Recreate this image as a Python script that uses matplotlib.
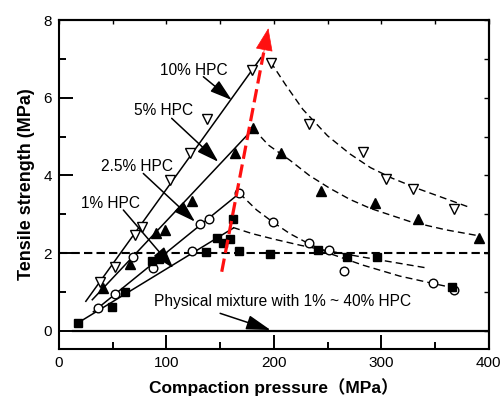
import matplotlib
matplotlib.use("Agg")
import matplotlib.pyplot as plt

plt.rcParams['font.family'] = ['Liberation Sans', 'Noto Sans CJK SC', 'DejaVu Sans']

# ---------------- data ----------------
# 10% HPC (open down triangles)
x10 = [38, 52, 70.8, 77, 103.4, 122, 137.5, 179.4, 197, 233, 282.7, 304.5, 330, 367.8]
y10 = [1.26, 1.65, 2.46, 2.68, 3.88, 4.58, 5.44, 6.71, 6.90, 5.32, 4.61, 3.90, 3.64, 3.13]
# 5% HPC (filled up triangles)
x5 = [41.3, 66.1, 90, 99, 124, 164, 181, 207, 244, 294, 334.6, 391.3]
y5 = [1.09, 1.72, 2.52, 2.59, 3.33, 4.57, 5.23, 4.57, 3.61, 3.30, 2.89, 2.38]
# 2.5% HPC (open circles)
x25 = [36.6, 52.1, 69.2, 87.8, 123.5, 131.3, 140, 168, 199, 233, 251.5, 265.6, 348.5, 367.9]
y25 = [0.58, 0.96, 1.91, 1.61, 2.06, 2.75, 2.89, 3.54, 2.81, 2.27, 2.07, 1.54, 1.22, 1.05]
# 1% HPC (filled squares)
x1 = [18, 49, 61, 86.3, 93, 137, 146.8, 153, 159, 162, 168, 196, 241, 268, 296, 366]
y1 = [0.21, 0.61, 1.01, 1.80, 1.86, 2.03, 2.40, 2.25, 2.37, 2.87, 2.06, 1.97, 2.07, 1.90, 1.90, 1.12]

# solid linear trend lines (end points)
fit10_x, fit10_y = [25, 188], [0.76, 7.03]
fit5_x, fit5_y = [31, 178], [0.80, 5.12]
fit25_x, fit25_y = [32, 168], [0.49, 3.54]
fit1_x, fit1_y = [18, 162], [0.21, 2.64]

# dashed decay curves
dec10_x = [197, 211, 227, 250, 271, 290, 310, 335, 364, 381]
dec10_y = [6.92, 6.33, 5.70, 5.02, 4.55, 4.20, 3.93, 3.65, 3.36, 3.19]
dec5_x = [181, 195, 215, 233, 252, 271, 290, 327, 360, 392]
dec5_y = [5.20, 4.78, 4.39, 4.00, 3.67, 3.38, 3.15, 2.81, 2.60, 2.44]
dec25_x = [168, 184, 199, 215, 232, 252, 283, 317, 348, 373]
dec25_y = [3.54, 3.11, 2.80, 2.50, 2.25, 1.99, 1.69, 1.41, 1.22, 1.07]
dec1_x = [162, 180, 200, 225, 250, 280, 310, 342]
dec1_y = [2.66, 2.50, 2.36, 2.20, 2.06, 1.91, 1.77, 1.62]

# reference lines
hdash_x, hdash_y = [0, 400], [2.0, 2.0]
zero_x, zero_y = [13, 400], [0.0, 0.0]

# red arrow
red_start = (151.5, 1.52)
red_tip = (194.9, 7.79)

# labels: (text, text pos, arrow tail, arrow tip)
labels = [
    ("10% HPC", (125.5, 6.71), (134.4, 6.54), (160.8, 5.94)),
    ("5% HPC", (97.8, 5.68), (104.9, 5.47), (148.3, 4.35)),
    ("2.5% HPC", (72.3, 4.22), (78.5, 4.05), (126.6, 2.81)),
    ("1% HPC", (48.4, 3.28), (59.9, 3.11), (106.4, 1.61)),
]
phys_text = "Physical mixture with 1% ~ 40% HPC"
phys_pos = (88.6, 0.75)
phys_tail = (150, 0.45)
phys_tip = (197, 0.02)

xticks = [0, 100, 200, 300, 400]
yticks = [0, 2, 4, 6, 8]

# ---------------- figure ----------------
fig = plt.figure(figsize=(5.02, 3.98), dpi=100)
ax = fig.add_axes([0.1175, 0.1239, 0.856, 0.8258])
ax.set_xlim(0, 400)
ax.set_ylim(-0.46, 8)

lw_fit = 1.1
ax.plot(fit10_x, fit10_y, 'k-', lw=lw_fit, zorder=2)
ax.plot(fit5_x, fit5_y, 'k-', lw=lw_fit, zorder=2)
ax.plot(fit25_x, fit25_y, 'k-', lw=lw_fit, zorder=2)
ax.plot(fit1_x, fit1_y, 'k-', lw=lw_fit, zorder=2)

for dx, dy in [(dec10_x, dec10_y), (dec5_x, dec5_y), (dec25_x, dec25_y), (dec1_x, dec1_y)]:
    ax.plot(dx, dy, color='k', lw=1.0, ls=(0, (5, 3)), zorder=2)

ax.plot(hdash_x, hdash_y, color='k', lw=1.5, ls=(0, (4, 2)), zorder=2)
ax.plot(zero_x, zero_y, color='k', lw=1.6, zorder=2)

# markers
ax.plot(x10, y10, 'v', ms=7.5, mfc='white', mec='k', mew=1.0, ls='none', zorder=4)
ax.plot(x5, y5, '^', ms=7.5, mfc='k', mec='k', ls='none', zorder=4)
ax.plot(x25, y25, 'o', ms=6.2, mfc='white', mec='k', mew=1.0, ls='none', zorder=4)
ax.plot(x1, y1, 's', ms=6.2, mfc='k', mec='k', ls='none', zorder=4)

# red dashed arrow
frac = 0.90
base = (red_start[0] + frac * (red_tip[0] - red_start[0]),
        red_start[1] + frac * (red_tip[1] - red_start[1]))
ax.plot([red_start[0], base[0]], [red_start[1], base[1]], color='#ff1010', lw=2.3,
        ls=(0, (4.2, 1.8)), zorder=5)
ax.annotate('', xy=red_tip, xytext=base,
            arrowprops=dict(arrowstyle='-|>,head_length=1.0,head_width=0.38',
                            mutation_scale=15, color='#ff1010', lw=0.5,
                            shrinkA=0, shrinkB=0), zorder=5)

fs = 11.2
for txt, tpos, tail, tip in labels:
    ax.text(tpos[0], tpos[1], txt, fontsize=fs, ha='center', va='center', zorder=6)
    ax.annotate('', xy=tip, xytext=tail,
                arrowprops=dict(arrowstyle='-|>,head_length=0.9,head_width=0.28',
                                mutation_scale=15, color='k', lw=1.1,
                                shrinkA=0, shrinkB=0), zorder=6)

ax.text(phys_pos[0], phys_pos[1], phys_text, fontsize=fs, ha='left', va='center', zorder=6)
ax.annotate('', xy=phys_tip, xytext=phys_tail,
            arrowprops=dict(arrowstyle='-|>,head_length=1.0,head_width=0.3',
                            mutation_scale=15, color='k', lw=1.1,
                            shrinkA=0, shrinkB=0), zorder=6)

# axes styling
for s in ax.spines.values():
    s.set_linewidth(1.5)
ax.set_xticks(xticks)
ax.set_yticks(yticks)
ax.set_xticks([50, 150, 250, 350], minor=True)
ax.set_yticks([1, 3, 5, 7], minor=True)
ax.tick_params(which='major', direction='in', length=10, width=1.4, labelsize=11, pad=5)
ax.tick_params(which='minor', direction='in', length=5, width=1.4)
ax.tick_params(top=False, right=False)

secx = ax.secondary_xaxis('top')
secx.set_xticks([0, 50, 100, 150, 200, 250, 300, 350, 400])
secx.tick_params(direction='in', length=3, width=1.0, labelsize=0, labeltop=False)
secx.spines['top'].set_linewidth(1.5)
secy = ax.secondary_yaxis('right')
secy.set_yticks([0, 1, 2, 3, 4, 5, 6, 7, 8])
secy.tick_params(direction='in', length=3.5, width=1.0, labelright=False)
secy.spines['right'].set_linewidth(1.5)

ax.set_xlabel("Compaction pressure（MPa）", fontsize=12.5, fontweight='bold', labelpad=6)
ax.set_ylabel("Tensile strength (MPa)", fontsize=13, fontweight='bold', labelpad=6)

fig.savefig("out.png", dpi=100)
